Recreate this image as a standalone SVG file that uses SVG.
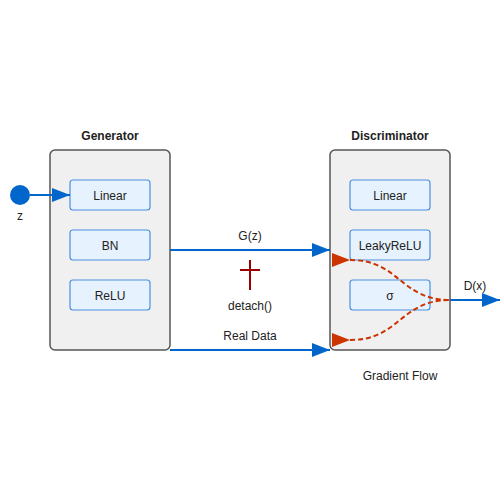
<svg xmlns="http://www.w3.org/2000/svg" width="500" height="500" viewBox="0 0 500 500">
<style>
.panel{fill:#f0f0f0;stroke:#555;stroke-width:1.5}
.layer{fill:#e6f2fd;stroke:#4a90e2;stroke-width:1.2}
.t{font-family:"Liberation Sans",Arial,sans-serif;font-size:12px;fill:#222;text-anchor:middle}
.title{font-weight:bold}
.flow{stroke:#0066cc;stroke-width:2;fill:none}
.grad{stroke:#cc3300;stroke-width:2;fill:none;stroke-dasharray:5,3}
</style>
<defs>
<marker id="ab" markerUnits="userSpaceOnUse" markerWidth="18" markerHeight="14" refX="18" refY="7" orient="auto">
<path d="M0,0 L18,7 L0,14 Z" fill="#0066cc"/>
</marker>
<marker id="ar" markerUnits="userSpaceOnUse" markerWidth="18" markerHeight="14" refX="18" refY="7" orient="auto">
<path d="M0,0 L18,7 L0,14 Z" fill="#cc3300"/>
</marker>
</defs>
<g id="generator">
<rect class="panel" x="50" y="150" width="120" height="200" rx="5"/>
<text class="t title" x="110" y="140">Generator</text>
<rect class="layer" x="70" y="180" width="80" height="30" rx="3"/>
<text class="t" x="110" y="199.5">Linear</text>
<rect class="layer" x="70" y="230" width="80" height="30" rx="3"/>
<text class="t" x="110" y="249.5">BN</text>
<rect class="layer" x="70" y="280" width="80" height="30" rx="3"/>
<text class="t" x="110" y="299.5">ReLU</text>
</g>
<g id="discriminator">
<rect class="panel" x="330" y="150" width="120" height="200" rx="5"/>
<text class="t title" x="390" y="140">Discriminator</text>
<rect class="layer" x="350" y="180" width="80" height="30" rx="3"/>
<text class="t" x="390" y="199.5">Linear</text>
<rect class="layer" x="350" y="230" width="80" height="30" rx="3"/>
<text class="t" x="390" y="249.5">LeakyReLU</text>
<rect class="layer" x="350" y="280" width="80" height="30" rx="3"/>
<text class="t" x="390" y="299.5">σ</text>
</g>
<g id="z">
<circle cx="20" cy="195" r="10" fill="#0066cc"/>
<text class="t" x="20" y="220">z</text>
</g>
<g id="connectors">
<line class="flow" x1="30" y1="195" x2="70" y2="195" marker-end="url(#ab)"/>
<line class="flow" x1="170" y1="250" x2="330" y2="250" marker-end="url(#ab)"/>
<text class="t" x="250" y="240">G(z)</text>
<line class="flow" x1="170" y1="350" x2="330" y2="350" marker-end="url(#ab)"/>
<text class="t" x="250" y="340">Real Data</text>
<line class="flow" x1="450" y1="300" x2="500" y2="300" marker-end="url(#ab)"/>
<text class="t" x="475" y="290">D(x)</text>
<path class="grad" d="M350,260 C400,260 400,300 450,300" marker-start="url(#ar)"/>
<path class="grad" d="M350,340 C400,340 400,300 450,300" marker-start="url(#ar)"/>
</g>
<g id="detach">
<line x1="250" y1="260" x2="250" y2="290" stroke="#990000" stroke-width="2"/>
<line x1="240" y1="270" x2="260" y2="270" stroke="#990000" stroke-width="2"/>
<text class="t" x="250" y="310">detach()</text>
</g>
<text class="t" x="400" y="380">Gradient Flow</text>
</svg>
